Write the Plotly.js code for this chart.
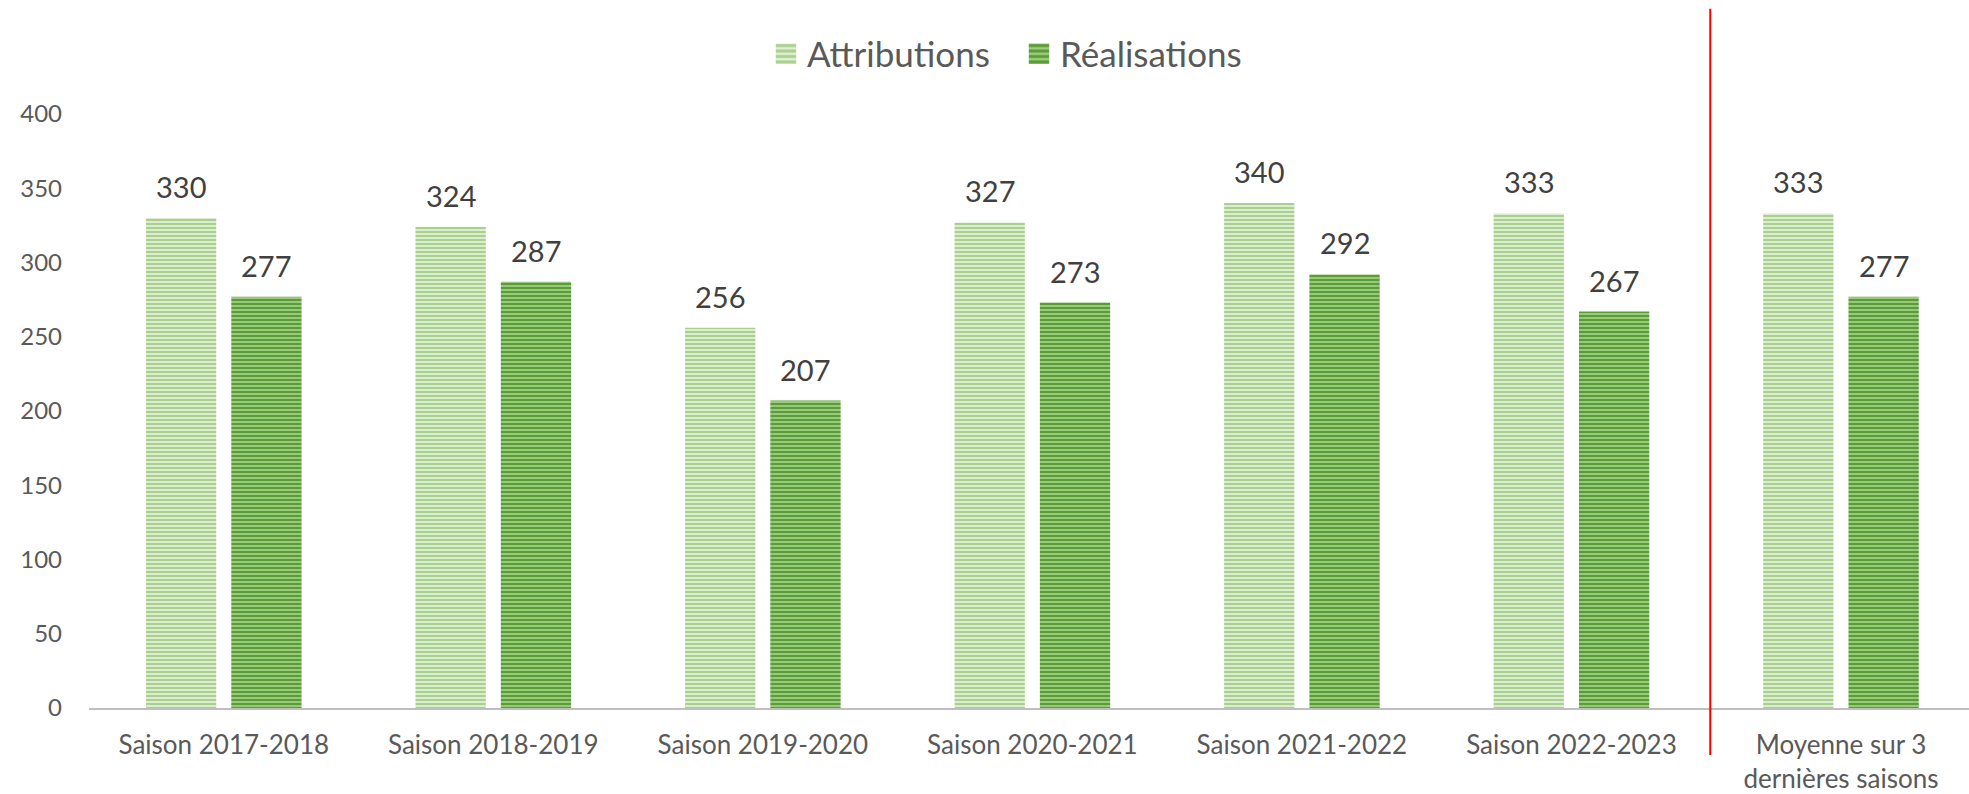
<!DOCTYPE html>
<html>
<head>
<meta charset="utf-8">
<script src="https://cdn.plot.ly/plotly-3.0.1.min.js"></script>
<style>html,body{margin:0;padding:0;background:#fff;}#chart{width:1969px;height:794px;}</style>
</head>
<body>
<div id="chart"></div>
<script>
const categories = ["Saison 2017-2018", "Saison 2018-2019", "Saison 2019-2020", "Saison 2020-2021", "Saison 2021-2022", "Saison 2022-2023", "Moyenne sur 3<br>dernières saisons"];
const attributions = [330, 324, 256, 327, 340, 333, 333];
const realisations = [277, 287, 207, 273, 292, 267, 277];
const yTicks = [0, 50, 100, 150, 200, 250, 300, 350, 400];

const BARGAP = 0.367;
const BARGROUPGAP = 0.176;
const slot = (1 - BARGAP) / 2;
const off = slot / 2;
const idx = categories.map((c, i) => i);

const traceA = {
  type: 'bar', name: 'Attributions', x: idx, y: attributions,
  marker: {
    color: '#a9d18e',
    line: {width: 0},
    pattern: {shape: '-', fgcolor: '#a9d18e', bgcolor: '#e2efd9', size: 4, solidity: 0.55, fillmode: 'replace'}
  },
  hoverinfo: 'skip'
};
const traceR = {
  type: 'bar', name: 'Réalisations', x: idx, y: realisations,
  marker: {
    color: '#5a9c36',
    line: {width: 0},
    pattern: {shape: '-', fgcolor: '#5a9c36', bgcolor: '#9fcd82', size: 4, solidity: 0.55, fillmode: 'replace'}
  },
  hoverinfo: 'skip'
};

const annotations = [];
idx.forEach(i => {
  annotations.push({x: i - off, y: attributions[i], xref: 'x', yref: 'y', text: String(attributions[i]),
    showarrow: false, yanchor: 'bottom', yshift: 12, font: {family: 'Lato', size: 29, color: '#404040'}});
  annotations.push({x: i + off, y: realisations[i], xref: 'x', yref: 'y', text: String(realisations[i]),
    showarrow: false, yanchor: 'bottom', yshift: 12, font: {family: 'Lato', size: 29, color: '#404040'}});
});

const layout = {
  width: 1969, height: 794,
  margin: {l: 89, r: 0, t: 114, b: 86, pad: 0},
  paper_bgcolor: '#ffffff', plot_bgcolor: '#ffffff',
  font: {family: 'Lato', color: '#595959'},
  barmode: 'group', bargap: BARGAP, bargroupgap: BARGROUPGAP,
  showlegend: true,
  legend: {orientation: 'h', x: 0.4952, xanchor: 'center', y: 1.101, yanchor: 'middle',
    font: {family: 'Lato', size: 35, color: '#595959'}, itemwidth: 30, traceorder: 'normal',
    entrywidth: 208, entrywidthmode: 'pixels'},
  xaxis: {
    tickmode: 'array', tickvals: idx, ticktext: categories,
    range: [-0.5, 6.475], showgrid: false, zeroline: false,
    showline: true, linecolor: '#bfbfbf', linewidth: 2,
    ticks: '', tickfont: {family: 'Lato', size: 26, color: '#595959'},
    ticklabelstandoff: 13, fixedrange: true
  },
  yaxis: {
    range: [0, 400], tickmode: 'array', tickvals: yTicks, ticktext: yTicks.map(String),
    showgrid: false, zeroline: false, showline: false, ticks: '',
    tickfont: {family: 'Lato', size: 24, color: '#595959'},
    ticklabelstandoff: 26, fixedrange: true
  },
  shapes: [{type: 'line', xref: 'x', yref: 'paper', x0: 5.515, x1: 5.515, y0: -0.079, y1: 1.177,
    line: {color: '#ff0000', width: 2}}],
  annotations: annotations
};

Plotly.newPlot('chart', [traceA, traceR], layout, {displayModeBar: false, staticPlot: true}).then(gd => {
  gd.querySelectorAll('.legend .legendpoints path').forEach(p => {
    p.setAttribute('transform', 'translate(19,0) scale(1.7)');
  });
});
</script>
</body>
</html>
